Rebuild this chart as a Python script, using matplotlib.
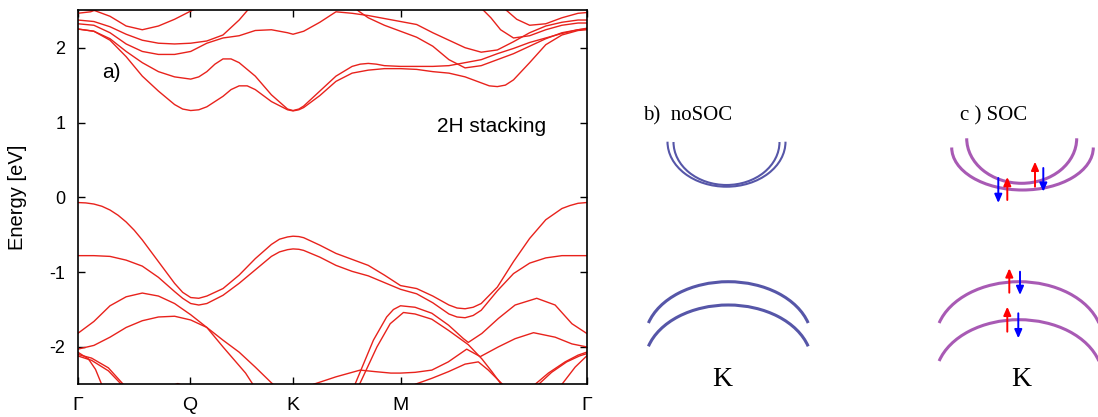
import matplotlib
matplotlib.use('Agg')
import matplotlib.pyplot as plt
from matplotlib.patches import Arc

plt.rcParams['font.family'] = ['Liberation Sans', 'DejaVu Sans']
plt.rcParams['axes.unicode_minus'] = False

# high-symmetry path: Gamma - Q - K - M - Gamma (path length units)
k_ticks = [0.0, 0.348, 0.667, 1.0, 1.577]
k_labels = ['Γ', 'Q', 'K', 'M', 'Γ']

# top two valence bands (eV)
vb1_k = [0, .025, .05, .075, .10, .125, .15, .175, .20, .25, .30, .325, .35, .375, .40, .45,
         .50, .55, .60, .625, .65, .667, .685, .70, .75, .80, .85, .90, .95, .975, 1.00, 1.05,
         1.10, 1.15, 1.175, 1.20, 1.225, 1.25, 1.30, 1.35, 1.40, 1.45, 1.50, 1.525, 1.55, 1.577]
vb1_e = [-0.07, -0.075, -0.09, -0.12, -0.17, -0.24, -0.33, -0.44, -0.57, -0.86, -1.15, -1.27,
         -1.34, -1.35, -1.32, -1.22, -1.04, -0.82, -0.63, -0.56, -0.53, -0.52, -0.525, -0.54,
         -0.64, -0.75, -0.83, -0.91, -1.04, -1.11, -1.18, -1.22, -1.32, -1.44, -1.48, -1.49,
         -1.47, -1.42, -1.20, -0.86, -0.55, -0.30, -0.15, -0.11, -0.08, -0.07]
vb2_k = [0, .05, .10, .15, .20, .25, .30, .325, .35, .375, .40, .45, .50, .55, .60, .625, .65,
         .667, .685, .70, .75, .80, .85, .90, .95, 1.00, 1.05, 1.10, 1.15, 1.175, 1.20, 1.225,
         1.25, 1.30, 1.35, 1.40, 1.45, 1.50, 1.55, 1.577]
vb2_e = [-0.78, -0.78, -0.79, -0.84, -0.92, -1.07, -1.26, -1.35, -1.42, -1.44, -1.42, -1.31,
         -1.15, -0.97, -0.79, -0.73, -0.70, -0.69, -0.695, -0.71, -0.80, -0.91, -0.99, -1.05,
         -1.14, -1.23, -1.29, -1.41, -1.56, -1.60, -1.61, -1.58, -1.51, -1.25, -1.02, -0.88,
         -0.81, -0.78, -0.78, -0.78]

# lowest conduction bands (eV)
cb1_k = [0, .05, .10, .15, .20, .25, .30, .325, .35, .375, .40, .45, .475, .50, .525, .55,
         .60, .65, .667, .685, .70, .75, .80, .85, .90, .95, 1.00, 1.05, 1.10, 1.15, 1.20,
         1.25, 1.275, 1.30, 1.325, 1.35, 1.40, 1.45, 1.50, 1.55, 1.577]
cb1_e = [2.25, 2.22, 2.10, 1.88, 1.62, 1.42, 1.24, 1.18, 1.16, 1.17, 1.21, 1.35, 1.44, 1.49,
         1.49, 1.44, 1.28, 1.17, 1.155, 1.17, 1.20, 1.36, 1.55, 1.66, 1.70, 1.72, 1.72, 1.71,
         1.68, 1.66, 1.61, 1.53, 1.49, 1.48, 1.50, 1.57, 1.80, 2.04, 2.17, 2.23, 2.24]
cb2_k = [0, .05, .10, .15, .20, .25, .30, .35, .375, .40, .425, .45, .475, .50, .55, .60, .65,
         .667, .685, .70, .75, .80, .85, .875, .90, .925, .95, 1.00, 1.05, 1.10, 1.15, 1.20,
         1.25, 1.30, 1.35, 1.40, 1.45, 1.50, 1.55, 1.577]
cb2_e = [2.25, 2.22, 2.12, 1.95, 1.80, 1.68, 1.61, 1.58, 1.61, 1.68, 1.78, 1.85, 1.85, 1.80,
         1.62, 1.37, 1.18, 1.16, 1.18, 1.22, 1.42, 1.62, 1.75, 1.78, 1.79, 1.78, 1.76, 1.75,
         1.75, 1.75, 1.76, 1.80, 1.84, 1.92, 1.99, 2.07, 2.13, 2.19, 2.24, 2.26]
cb3_k = [0.00, 0.05, 0.10, 0.15, 0.20, 0.25, 0.30, 0.35, 0.40, 0.45, 0.50, 0.55, 0.60, 0.65,
         0.667, 0.70, 0.75, 0.80, 0.85, 0.90, 0.95, 1.00, 1.05, 1.10, 1.15, 1.20, 1.25, 1.30,
         1.35, 1.40, 1.45, 1.50, 1.55, 1.577]
cb3_e = [2.32, 2.30, 2.20, 2.05, 1.95, 1.91, 1.91, 1.95, 2.06, 2.13, 2.16, 2.23, 2.24, 2.20,
         2.18, 2.22, 2.34, 2.48, 2.46, 2.43, 2.39, 2.35, 2.31, 2.20, 2.10, 2.00, 1.94, 1.97,
         2.08, 2.20, 2.29, 2.34, 2.37, 2.37]

# higher conduction bands, partly outside the window
cb4_k = [0.00, 0.05, 0.10, 0.15, 0.20, 0.25, 0.30, 0.35, 0.40, 0.45, 0.50, 0.53]
cb4_e = [2.37, 2.35, 2.28, 2.18, 2.10, 2.06, 2.05, 2.06, 2.09, 2.17, 2.37, 2.52]
cb5_k = [0.00, 0.05, 0.10, 0.15, 0.20, 0.25, 0.30, 0.35, 0.37]
cb5_e = [2.52, 2.50, 2.42, 2.29, 2.24, 2.29, 2.38, 2.49, 2.53]
cb6_k = [0.00, 0.04, 0.07]
cb6_e = [2.46, 2.48, 2.53]
cb7_k = [0.86, 0.87, 0.90, 0.95, 1.00, 1.05, 1.10, 1.15, 1.20, 1.25, 1.30, 1.35, 1.40,
         1.45, 1.50, 1.55, 1.577]
cb7_e = [2.53, 2.49, 2.40, 2.30, 2.22, 2.14, 2.02, 1.84, 1.73, 1.76, 1.84, 1.92, 2.02,
         2.12, 2.20, 2.24, 2.25]
cb8_k = [1.25, 1.28, 1.31, 1.35, 1.40, 1.45, 1.50, 1.55, 1.577]
cb8_e = [2.53, 2.40, 2.24, 2.13, 2.16, 2.24, 2.30, 2.33, 2.33]
cb9_k = [1.32, 1.36, 1.40, 1.45, 1.50, 1.55, 1.577]
cb9_e = [2.53, 2.38, 2.30, 2.32, 2.40, 2.46, 2.47]

# deeper valence bands
vb3_k = [0.00, 0.05, 0.10, 0.15, 0.20, 0.25, 0.30, 0.35, 0.40, 0.45, 0.50, 0.52, 0.55]
vb3_e = [-1.82, -1.66, -1.45, -1.33, -1.28, -1.32, -1.42, -1.57, -1.74, -2.00, -2.25,
         -2.35, -2.55]
vb4_k = [0.00, 0.05, 0.10, 0.15, 0.20, 0.25, 0.30, 0.35, 0.40, 0.45, 0.50, 0.55, 0.60, 0.63]
vb4_e = [-2.03, -1.98, -1.87, -1.74, -1.65, -1.60, -1.59, -1.64, -1.74, -1.91, -2.07,
         -2.27, -2.48, -2.60]
vb5_k = [0.00, 0.033, 0.055, 0.074, 0.09]
vb5_e = [-2.07, -2.16, -2.30, -2.50, -2.65]
vb6_k = [0.00, 0.043, 0.095, 0.141, 0.16]
vb6_e = [-2.10, -2.15, -2.28, -2.50, -2.60]
vb7_k = [0.00, 0.043, 0.095, 0.135, 0.15]
vb7_e = [-2.12, -2.18, -2.32, -2.50, -2.60]
vb8_k = [0.27, 0.31, 0.35]
vb8_e = [-2.56, -2.49, -2.56]
vbE_k = [0.70, 0.730, 0.80, 0.875, 0.92, 0.97, 1.00, 1.045, 1.097, 1.148, 1.205, 1.247,
         1.303, 1.355, 1.412, 1.479, 1.531, 1.577]
vbE_e = [-2.60, -2.50, -2.40, -2.31, -2.33, -2.35, -2.35, -2.34, -2.31, -2.20, -2.03,
         -2.13, -2.00, -1.89, -1.81, -1.87, -1.96, -2.00]
vbC_k = [0.85, 0.859, 0.916, 0.957, 0.978, 1.00, 1.045, 1.097, 1.149, 1.195, 1.21, 1.252,
         1.303, 1.355, 1.422, 1.479, 1.531, 1.577]
vbC_e = [-2.60, -2.50, -1.91, -1.60, -1.50, -1.45, -1.47, -1.55, -1.71, -1.89, -1.94,
         -1.82, -1.62, -1.44, -1.35, -1.44, -1.69, -1.82]
vbD_k = [0.86, 0.873, 0.927, 0.968, 1.009, 1.045, 1.097, 1.149, 1.21, 1.252, 1.283,
         1.312, 1.32]
vbD_e = [-2.60, -2.50, -2.00, -1.69, -1.54, -1.56, -1.63, -1.78, -1.97, -2.16, -2.33,
         -2.50, -2.60]
vbF_k = [1.03, 1.045, 1.097, 1.149, 1.20, 1.241, 1.272, 1.316, 1.33]
vbF_e = [-2.60, -2.50, -2.42, -2.33, -2.23, -2.20, -2.31, -2.50, -2.60]
vbP_k = [1.40, 1.417, 1.458, 1.51, 1.55, 1.577]
vbP_e = [-2.60, -2.50, -2.35, -2.20, -2.11, -2.07]
vbP2_k = [1.41, 1.428, 1.468, 1.515, 1.555, 1.577]
vbP2_e = [-2.60, -2.50, -2.34, -2.20, -2.12, -2.09]
vbS_k = [1.49, 1.50, 1.541, 1.577]
vbS_e = [-2.60, -2.50, -2.27, -2.12]

bands = [(vb1_k, vb1_e), (vb2_k, vb2_e), (cb1_k, cb1_e), (cb2_k, cb2_e), (cb3_k, cb3_e),
         (cb4_k, cb4_e), (cb5_k, cb5_e), (cb6_k, cb6_e), (cb7_k, cb7_e),
         (cb8_k, cb8_e), (cb9_k, cb9_e), (vb3_k, vb3_e), (vb4_k, vb4_e),
         (vb5_k, vb5_e), (vb6_k, vb6_e), (vb7_k, vb7_e), (vb8_k, vb8_e),
         (vbE_k, vbE_e), (vbC_k, vbC_e), (vbD_k, vbD_e), (vbF_k, vbF_e),
         (vbP_k, vbP_e), (vbP2_k, vbP2_e), (vbS_k, vbS_e)]

red = '#e8221c'

fig = plt.figure(figsize=(10.98, 4.17), dpi=100)

# panel a) band structure
ax = fig.add_axes([0.0708, 0.0784, 0.4636, 0.8969])
for kk, ee in bands:
    ax.plot(kk, ee, color=red, lw=1.0, solid_joinstyle='round')
ax.set_xlim(0, 1.577)
ax.set_ylim(-2.5, 2.5)
ax.set_xticks(k_ticks)
ax.set_xticklabels(k_labels, fontsize=14)
ax.set_yticks([-2, -1, 0, 1, 2])
ax.set_yticklabels(['-2', '-1', '0', '1', '2'], fontsize=13)
ax.tick_params(direction='in', top=True, right=True, length=5, width=1)
ax.tick_params(axis='y', pad=9)
ax.tick_params(axis='x', pad=9)
for s in ax.spines.values():
    s.set_linewidth(1.2)
ax.text(0.047, 0.835, 'a)', transform=ax.transAxes, fontsize=15, ha='left', va='center')
ax.text(0.705, 0.69, '2H stacking', transform=ax.transAxes, fontsize=15,
        ha='left', va='center')
fig.text(18 / 1098, 0.528, 'Energy [eV]', rotation=90, fontsize=14.5,
         ha='center', va='center')

# panels b) and c): schematic bands at K, drawn in pixel coordinates
ax2 = fig.add_axes([0, 0, 1, 1])
ax2.set_xlim(0, 1098)
ax2.set_ylim(417, 0)
ax2.axis('off')
ax2.patch.set_alpha(0)

noSOC = '#5656a8'
SOC = '#a85ab4'
serif = ['Liberation Serif', 'DejaVu Serif']

# b) noSOC
ax2.text(643, 116, 'b)  noSOC', fontsize=15, family=serif, ha='left', va='center')
ax2.add_patch(Arc((726.5, 141.7), 118, 90, theta1=0, theta2=180, color=noSOC, lw=1.5))
ax2.add_patch(Arc((726.5, 142.0), 106, 86, theta1=0, theta2=180, color=noSOC, lw=1.5))
ax2.add_patch(Arc((728.3, 340.0), 167, 116.6, theta1=192, theta2=348, color=noSOC, lw=2.2))
ax2.add_patch(Arc((728.3, 363.3), 167, 116.6, theta1=192, theta2=348, color=noSOC, lw=2.2))
ax2.text(722.5, 380, 'K', fontsize=20, family=serif, ha='center', va='center')

# c) SOC
ax2.text(960, 116, 'c ) SOC', fontsize=15, family=serif, ha='left', va='center')
ax2.add_patch(Arc((1021.7, 138.3), 110, 90, theta1=0, theta2=180, color=SOC, lw=2.2))
ax2.add_patch(Arc((1022.5, 147.5), 141.6, 85, theta1=0, theta2=180, color=SOC, lw=2.2))
ax2.add_patch(Arc((1019, 340.0), 167, 116.6, theta1=192, theta2=348, color=SOC, lw=2.2))
ax2.add_patch(Arc((1019, 378.0), 167, 116.6, theta1=192, theta2=348, color=SOC, lw=2.2))
ax2.text(1021.7, 380, 'K', fontsize=20, family=serif, ha='center', va='center')

# spin arrows: (x, tail y, head y, colour)
spins = [(998.3, 178, 203, 'blue'), (1007.3, 200, 177, 'red'),
         (1035.0, 186.7, 161.7, 'red'), (1043.3, 168, 191.7, 'blue'),
         (1009.3, 292.7, 268.3, 'red'), (1020.0, 271.7, 295, 'blue'),
         (1007.3, 331.7, 306.7, 'red'), (1018.3, 313.3, 338.3, 'blue')]
for x, y0, y1, c in spins:
    ax2.annotate('', xy=(x, y1), xytext=(x, y0),
                 arrowprops=dict(arrowstyle='-|>,head_length=0.5,head_width=0.22',
                                 color=c, lw=1.4, shrinkA=0, shrinkB=0))

fig.savefig('out.png', dpi=100)
